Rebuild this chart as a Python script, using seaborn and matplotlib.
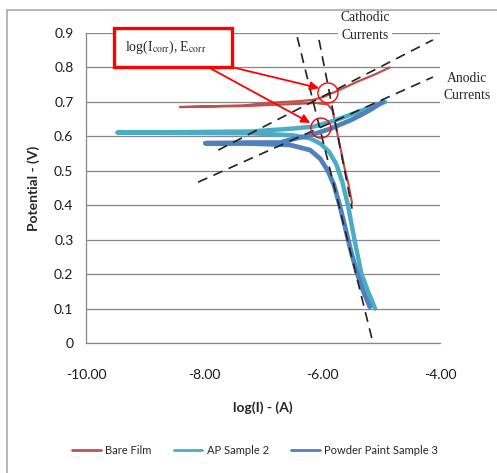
import numpy as np
import pandas as pd
import seaborn as sns
import matplotlib.pyplot as plt
from matplotlib.lines import Line2D
from matplotlib.patches import Rectangle, Ellipse


################################################################################

X_LABEL = "log(I) - (A)"
Y_LABEL = "Potential - (V)"

SERIES = ["Bare Film", "AP Sample 2", "Powder Paint Sample 3"]
COLORS = ["#C0504D", "#4BACC6", "#4F81BD"]

# polarisation scans: cathodic branch (bottom) -> Ecorr spike -> anodic branch
bare_x = [-5.49, -5.55, -5.62, -5.68, -5.73, -5.78, -5.82, -5.90, -6.10, -6.60,
          -7.30, -8.41, -7.30, -6.93, -6.40, -6.15, -5.98, -5.70, -5.41, -5.10, -4.85]
bare_y = [0.405, 0.46, 0.51, 0.56, 0.60, 0.64, 0.675, 0.692, 0.697, 0.693,
          0.688, 0.685, 0.690, 0.697, 0.702, 0.706, 0.714, 0.735, 0.758, 0.780, 0.800]

ap_x = [-5.10, -5.22, -5.33, -5.45, -5.56, -5.66, -5.76, -5.88, -6.02, -6.20,
        -6.50, -7.20, -8.50, -9.47, -8.50, -7.22, -6.54, -6.15, -5.80, -5.53, -5.20, -4.93]
ap_y = [0.100, 0.150, 0.200, 0.300, 0.400, 0.470, 0.520, 0.555, 0.578, 0.594,
        0.603, 0.609, 0.610, 0.611, 0.612, 0.614, 0.622, 0.628, 0.645, 0.662, 0.683, 0.700]

pp_x = [-5.19, -5.30, -5.40, -5.50, -5.60, -5.70, -5.80, -5.90, -6.03, -6.20,
        -6.54, -7.20, -7.98, -7.20, -6.71, -6.54, -6.20, -5.86, -5.50, -5.20, -4.97]
pp_y = [0.105, 0.150, 0.200, 0.260, 0.330, 0.400, 0.460, 0.500, 0.535, 0.560,
        0.575, 0.579, 0.580, 0.582, 0.582, 0.590, 0.603, 0.622, 0.648, 0.675, 0.700]

# Tafel tangent lines (start, end)
tangent_x = [[-6.42, -5.14], [-6.05, -5.49], [-7.76, -4.12], [-8.10, -4.12]]
tangent_y = [[0.888, 0.003], [0.880, 0.390], [0.560, 0.880], [0.467, 0.772]]

# (log Icorr, Ecorr) points that are circled
corr_x = [-5.90, -6.02]
corr_y = [0.726, 0.624]

X_TICKS = [-10, -8, -6, -4]
X_TICKLABELS = ["-10.00", "-8.00", "-6.00", "-4.00"]
Y_TICKS = [0, 0.1, 0.2, 0.3, 0.4, 0.5, 0.6, 0.7, 0.8, 0.9]
Y_TICKLABELS = ["0", "0.1", "0.2", "0.3", "0.4", "0.5", "0.6", "0.7", "0.8", "0.9"]

GRID = "#868686"


def plotCurves(ax):
  widths = [1.6, 3.2, 3.4]
  data = [(bare_x, bare_y), (ap_x, ap_y), (pp_x, pp_y)]
  for (xs, ys), c, w in zip(data, COLORS, widths):
    df = pd.DataFrame({"x": xs, "y": ys})
    sns.lineplot(data=df, x="x", y="y", sort=False, estimator=None, color=c,
                 lw=w, ax=ax, legend=False, solid_joinstyle="round",
                 solid_capstyle="round")
  for xs, ys in zip(tangent_x, tangent_y):
    ax.plot(xs, ys, color="#222222", lw=1.2, dashes=(6, 4), zorder=4)


def annotate(ax):
  for cx, cy in zip(corr_x, corr_y):
    ax.add_patch(Ellipse((cx, cy), 0.34, 0.058, fill=False, ec="red", lw=1.0, zorder=5))

  ax.add_patch(Rectangle((-9.525, 0.801), 1.995, 0.114, fill=True, fc="white",
                         ec="red", lw=2.4, clip_on=False, zorder=6))
  ax.text(-9.34, 0.857, r"log(I$_{\rm corr}$), E$_{\rm corr}$", family="Liberation Serif",
          fontsize=10, va="center", ha="left", zorder=7, clip_on=False)

  arrow = dict(arrowstyle="-|>", color="red", lw=1.3, mutation_scale=13,
               shrinkA=0, shrinkB=0)
  ax.annotate("", xy=(-6.05, 0.740), xytext=(-7.53, 0.801), arrowprops=arrow, zorder=6)
  ax.annotate("", xy=(-6.20, 0.639), xytext=(-7.93, 0.801), arrowprops=arrow, zorder=6)

  ax.text(-5.27, 0.919, "Cathodic\nCurrents", family="Liberation Serif", fontsize=9.8,
          ha="center", va="center", linespacing=1.45, clip_on=False, zorder=7,
          bbox=dict(fc="white", ec="none", pad=1.5))
  ax.text(-3.54, 0.742, "Anodic\nCurrents", family="Liberation Serif", fontsize=9.8,
          ha="center", va="center", linespacing=1.4, clip_on=False, zorder=7)


def main():
  sns.set_style("white")
  plt.rcParams["font.family"] = ["Lato", "DejaVu Sans"]
  plt.rcParams["mathtext.fontset"] = "stix"

  fig = plt.figure(figsize=(4.97, 4.73), dpi=100)
  fig.add_artist(Rectangle((7 / 497, -0.05), 1.2, 1.05 - 10 / 473, transform=fig.transFigure,
                           fill=False, ec="#AAAAAA", lw=1.2))
  ax = fig.add_axes([86 / 497, 130 / 473, 354 / 497, 310 / 473])

  plotCurves(ax)
  annotate(ax)

  ax.set_xlim(-10, -4)
  ax.set_ylim(0, 0.9)
  ax.set_xticks(X_TICKS)
  ax.set_xticklabels(X_TICKLABELS)
  ax.set_yticks(Y_TICKS)
  ax.set_yticklabels(Y_TICKLABELS)
  ax.tick_params(axis="x", direction="out", length=5, width=0.8, color=GRID, pad=14,
                 labelsize=10, labelcolor="#1a1a1a")
  ax.tick_params(axis="y", direction="out", length=5, width=0.8, color=GRID, pad=4,
                 labelsize=10, labelcolor="#1a1a1a")
  ax.grid(axis="y", color=GRID, lw=0.9)
  ax.set_axisbelow(True)
  for s in ["top", "right"]:
    ax.spines[s].set_visible(False)
  for s in ["left", "bottom"]:
    ax.spines[s].set_color(GRID)
    ax.spines[s].set_linewidth(0.9)

  ax.set_xlabel(X_LABEL, fontsize=10, fontweight="bold", labelpad=14)
  ax.set_ylabel(Y_LABEL, fontsize=10, fontweight="bold", labelpad=10)

  handles = [Line2D([], [], color=c, lw=2) for c in COLORS]
  fig.legend(handles, SERIES, loc="center", bbox_to_anchor=(255 / 497, 1 - 450 / 473),
             ncol=3, frameon=False, fontsize=8, handlelength=2.6, columnspacing=2.0,
             handletextpad=0.4)

  fig.savefig("out.png", dpi=100)

main()
